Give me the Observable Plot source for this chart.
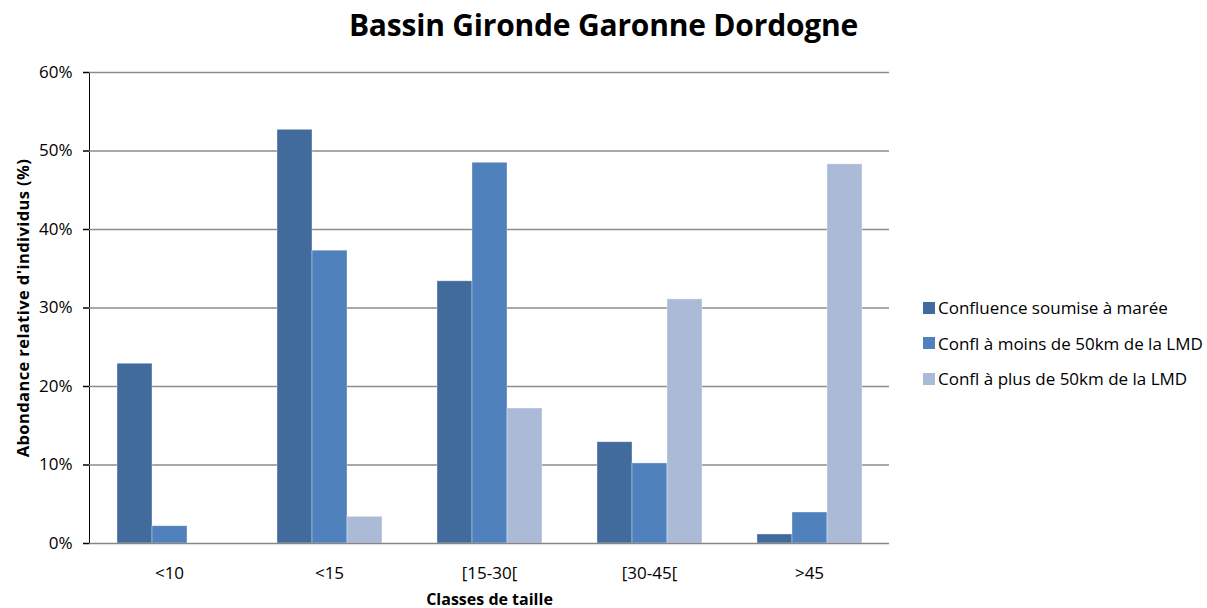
<!DOCTYPE html>
<html>
<head>
<meta charset="utf-8">
<script src="https://cdn.jsdelivr.net/npm/d3@7"></script>
<script src="https://cdn.jsdelivr.net/npm/@observablehq/plot@0.6"></script>
<style>
  body { margin: 0; background: white; font-family: "Open Sans", sans-serif; }
  #wrap { position: relative; width: 1207px; height: 608px; overflow: hidden; }
  #chart { position: absolute; left: 0; top: 0; }
  #title { position: absolute; left: 0; width: 1207px; top: 4px; text-align: center;
           font-size: 30px; font-weight: bold; color: #000; z-index: 2; letter-spacing: -0.2px; }
  #legend { position: absolute; left: 923px; top: 290px; z-index: 2; font-size: 17px; color: #000; }
  .item { display: flex; align-items: center; height: 35.5px; }
  .sw { width: 12px; height: 12px; margin-right: 3px; flex: none; }
</style>
</head>
<body>
<div id="wrap">
  <div id="chart"></div>
  <div id="title">Bassin Gironde Garonne Dordogne</div>
  <div id="legend"></div>
</div>
<script>
const categories = ["<10", "<15", "[15-30[", "[30-45[", ">45"];
const series = ["Confluence soumise à marée", "Confl à moins de 50km de la LMD", "Confl à plus de 50km de la LMD"];
const confluenceMaree = [22.9, 52.7, 33.4, 12.9, 1.15];
const moins50km = [2.2, 37.3, 48.5, 10.2, 3.95];
const plus50km = [0, 3.4, 17.2, 31.1, 48.3];
const colors = ["#416b9c", "#4f81bd", "#aabad7"];
const yTicks = [0, 10, 20, 30, 40, 50, 60];

const seriesValues = [confluenceMaree, moins50km, plus50km];
const data = [];
categories.forEach((c, i) => {
  series.forEach((s, j) => data.push({cat: c, series: s, value: seriesValues[j][i]}));
});

const chart = Plot.plot({
  width: 900,
  height: 608,
  marginTop: 72,
  marginBottom: 65,
  marginLeft: 89,
  marginRight: 11,
  style: {fontFamily: "Open Sans, sans-serif", fontSize: "17px", color: "#000", background: "transparent"},
  fx: {domain: categories, padding: 0, axis: "bottom", label: "Classes de taille", labelAnchor: "center",
       labelOffset: 61, tickSize: 0, tickPadding: 23},
  x: {domain: series, paddingInner: 0, paddingOuter: 0.75, axis: null},
  y: {domain: [0, 60], ticks: yTicks, tickFormat: d => d + "%", tickSize: 6, tickPadding: 11,
      label: "Abondance relative d'individus (%)", labelAnchor: "center", labelOffset: 72, line: true},
  color: {domain: series, range: colors},
  marks: [
    Plot.ruleY(yTicks.filter(d => d > 0), {stroke: "#8c8c8c", strokeWidth: 1.3}),
    Plot.barY(data, {fx: "cat", x: "series", y: "value", fill: "series", stroke: "white", strokeOpacity: 0.45, strokeWidth: 0.8}),
    Plot.ruleY([0], {stroke: "#868686", strokeWidth: 1.6})
  ]
});
document.getElementById("chart").appendChild(chart);

// bold axis titles without arrows, grey axis lines
d3.select(chart).selectAll('[aria-label="y-axis label"] text, [aria-label="fx-axis label"] text')
  .text(function() { return this.textContent.replace(/[↑→↓←]/g, "").trim(); });
d3.select(chart).selectAll('[aria-label="y-axis label"]')
  .attr("font-weight", "bold").attr("font-size", "16.5px").attr("letter-spacing", "0.4px");
d3.select(chart).selectAll('[aria-label="fx-axis label"]')
  .attr("font-weight", "bold").attr("font-size", "16px");
d3.select(chart).selectAll('[aria-label="y-axis tick"], [aria-label="y-axis line"]')
  .attr("stroke", "#868686").attr("stroke-width", 1.5);

const legend = d3.select("#legend");
series.forEach((s, i) => {
  const it = legend.append("div").attr("class", "item");
  it.append("div").attr("class", "sw").style("background", colors[i]);
  it.append("span").text(s);
});
</script>
</body>
</html>
